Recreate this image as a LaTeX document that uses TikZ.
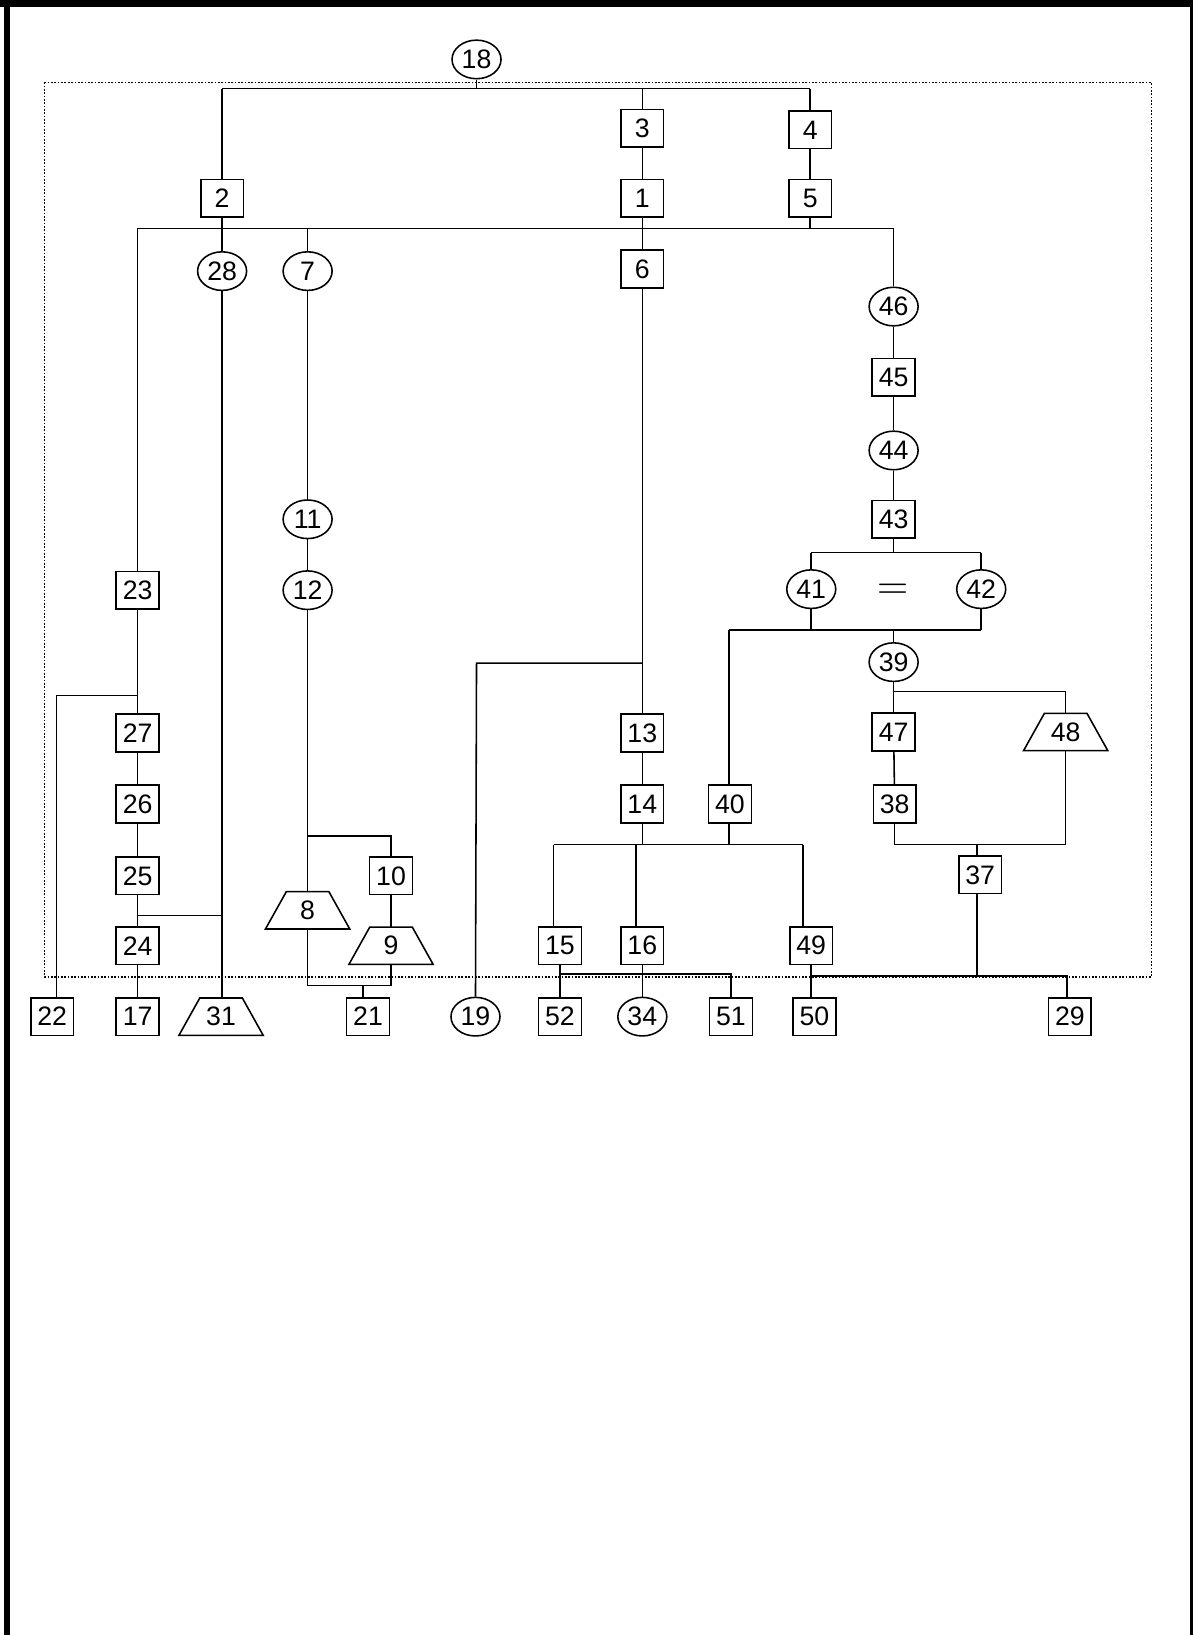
\documentclass[tikz,border=0pt]{standalone}
\usepackage{fontspec}
\setmainfont{Liberation Sans}
\usetikzlibrary{shapes.geometric}
\newcommand\drawtrap[1]{\draw[line width=0.75pt] (#1.south west) -- (#1.south east) -- ([xshift=-10pt]#1.north east) -- ([xshift=10pt]#1.north west) -- cycle;}
\tikzset{
  nfont/.style={font=\fontsize{12.8}{14}\selectfont},
  box/.style={draw, line width=0.75pt, minimum width=20.5pt, minimum height=18pt, inner sep=0pt, nfont},
  oval/.style={draw, ellipse, line width=0.75pt, minimum width=23.5pt, minimum height=18.5pt, inner sep=0pt, nfont},
  trapz/.style={minimum width=40pt, minimum height=17.5pt, inner sep=0pt, nfont},
  wire/.style={line width=0.75pt},
  dotbox/.style={line width=0.6pt, dash pattern=on 0.8pt off 0.8pt}
}
\begin{document}
\begin{tikzpicture}[x=0.5pt, y={(0pt,-0.5pt)}]
\useasboundingbox (0,0) rectangle (1144,1568);
% page frame
\draw[line width=3pt] (6.5,1568) -- (6.5,0);
\draw[line width=3.3pt] (0,3.3) -- (1144,3.3);
\draw[line width=1.6pt] (1142.4,0) -- (1142.4,1568);
% dotted frame
\draw[dotbox] (43,79) rectangle (1104,937);

% nodes
\node[oval] (n18) at (457,57) {18};
\node[box] (n2) at (213,190) {2};
\node[box] (n3) at (616,123) {3};
\node[box] (n4) at (777,124.5) {4};
\node[box] (n1) at (616,190) {1};
\node[box] (n5) at (777,190) {5};
\node[oval] (n28) at (213,260) {28};
\node[oval] (n7) at (295,260) {7};
\node[box] (n6) at (616,258) {6};
\node[oval] (n46) at (857,294) {46};
\node[box] (n45) at (857,362) {45};
\node[oval] (n44) at (857,432) {44};
\node[box] (n43) at (857,498) {43};
\node[oval] (n41) at (778,565) {41};
\node[oval] (n42) at (941,565) {42};
\node[inner sep=0pt] (eq) at (856,568) {\fontsize{20}{20}\selectfont$=$};
\node[oval] (n39) at (857,635) {39};
\node[box] (n40) at (700,771) {40};
\node[box] (n47) at (857,702) {47};
\node[trapz] (n48) at (1022,702) {48};
\node[box] (n38) at (858,771) {38};
\node[box] (n37) at (940,839) {37};
\node[box] (n13) at (616,703) {13};
\node[box] (n14) at (616,771) {14};
\node[box] (n15) at (537,907) {15};
\node[box] (n16) at (616,907) {16};
\node[box] (n49) at (778,907) {49};
\node[box] (n52) at (537,975) {52};
\node[oval] (n34) at (616,975) {34};
\node[box] (n51) at (701,975) {51};
\node[box] (n50) at (781,975) {50};
\node[box] (n29) at (1026,975) {29};
\node[oval] (n19) at (456,975) {19};
\node[box] (n21) at (353,975) {21};
\node[trapz] (n31) at (212,975) {31};
\node[box] (n17) at (132,975) {17};
\node[box] (n22) at (50,975) {22};
\node[box] (n23) at (132,566) {23};
\node[box] (n27) at (132,703) {27};
\node[box] (n26) at (132,771) {26};
\node[box] (n25) at (132,840) {25};
\node[box] (n24) at (132,907) {24};
\node[oval] (n11) at (295,498) {11};
\node[oval] (n12) at (295,566) {12};
\node[trapz] (n8) at (295,873) {8};
\node[box] (n10) at (375,840) {10};
\node[trapz] (n9) at (375,907) {9};
\drawtrap{n48}
\drawtrap{n31}
\drawtrap{n8}
\drawtrap{n9}

% junction coordinates
\coordinate (tbL) at (213,85);
\coordinate (tbR) at (777,85);
\coordinate (bL) at (132,219);
\coordinate (bR) at (857,219);
\coordinate (eqL) at (778,530);
\coordinate (eqR) at (941,530);
\coordinate (lowL) at (699,604);
\coordinate (lowR) at (941,604);
\coordinate (b39L) at (857,663);
\coordinate (b39R) at (1022,663);
\coordinate (b38L) at (858,810);
\coordinate (b38R) at (1022,810);
\coordinate (j37) at (937,810);
\coordinate (bbL) at (778,936);
\coordinate (bbR) at (1023,936);
\coordinate (j37b) at (937,936);
\coordinate (br19R) at (616,636);
\coordinate (br19L) at (457,636);
\coordinate (b14L) at (531,810);
\coordinate (b14R) at (770,810);
\coordinate (j16) at (610,810);
\coordinate (b15L) at (537,934);
\coordinate (b15R) at (701,934);
\coordinate (br22R) at (132,667);
\coordinate (br22L) at (54,667);
\coordinate (br31L) at (132,878);
\coordinate (br31R) at (213,878);
\coordinate (br10L) at (295,802);
\coordinate (br10R) at (375,802);
\coordinate (b21L) at (295,945);
\coordinate (b21R) at (375,945);
\coordinate (j21) at (348,945);

\begin{scope}[wire]
% top
\draw (n18.south) -- (n18.south |- tbL);
\draw (tbL) -- (tbR);
\draw (tbL) -- (n2.north);
\draw (n3.north) -- (n3.north |- tbL);
\draw (tbR) -- (n4.north);
\draw (n3) -- (n1);
\draw (n4) -- (n5);
% second bus
\draw (bL) -- (bR);
\draw (n2.south) -- (n28.north);
\draw (n1.south) -- (n6.north);
\draw (n5.south) -- (n5.south |- bL);
\draw (n7.north) -- (n7.north |- bL);
\draw (bR) -- (n46.north);
\draw (bL) -- (n23.north);
% right chain
\draw (n46) -- (n45);
\draw (n45) -- (n44);
\draw (n44) -- (n43);
\draw (n43.south) -- (n43.south |- eqL);
\draw (eqL) -- (eqR);
\draw (eqL) -- (n41.north);
\draw (eqR) -- (n42.north);
\draw (n41.south) -- (n41.south |- lowL);
\draw (n42.south) -- (lowR);
\draw (lowL) -- (lowR);
\draw (lowL) -- (n40.north -| lowL);
\draw (n39.north) -- (n39.north |- lowL);
\draw (n39.south) -- (n47.north);
\draw (b39L) -- (b39R) -- (n48.north);
\draw (n47) -- (n38);
\draw (n38.south) -- (b38L) -- (b38R) -- (n48.south);
\draw (j37) -- (n37.north -| j37);
\draw (n37.south -| j37b) -- (j37b);
\draw (bbL) -- (bbR) -- (n29.north -| bbR);
\draw (n49.south) -- (n49.south |- n50.north);
% middle
\draw (n6.south) -- (n13.north);
\draw (br19R) -- (br19L) -- (n19.north);
\draw (n13) -- (n14);
\draw (n14.south) -- (n14.south |- b14L);
\draw (b14L) -- (b14R);
\draw (n40.south -| lowL) -- (lowL |- b14L);
\draw (b14L) -- (n15.north -| b14L);
\draw (j16) -- (n16.north -| j16);
\draw (b14R) -- (n49.north -| b14R);
\draw (n15.south) -- (n52.north);
\draw (b15L) -- (b15R) -- (n51.north);
\draw (n16.south) -- (n34.north);
% left
\draw (n23) -- (n27);
\draw (br22R) -- (br22L) -- (n22.north -| br22L);
\draw (n27) -- (n26);
\draw (n26) -- (n25);
\draw (n25) -- (n24);
\draw (n24) -- (n17);
\draw (br31L) -- (br31R);
\draw (n28.south) -- (n31.north -| n28.south);
% 7 branch
\draw (n7) -- (n11);
\draw (n11) -- (n12);
\draw (n12.south) -- (n8.north);
\draw (br10L) -- (br10R) -- (n10.north);
\draw (n10) -- (n9);
\draw (n8.south) -- (b21L) -- (b21R) -- (n9.south);
\draw (j21) -- (n21.north -| j21);
\end{scope}
\end{tikzpicture}
\end{document}
